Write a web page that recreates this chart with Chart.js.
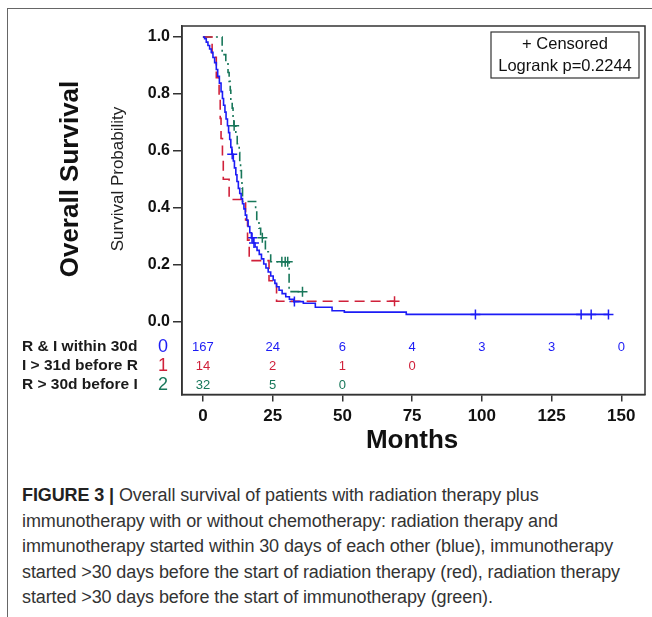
<!DOCTYPE html>
<html>
<head>
<meta charset="utf-8">
<script src="https://cdn.jsdelivr.net/npm/chart.js@4.4.1/dist/chart.umd.min.js"></script>
<style>
  html, body { margin: 0; padding: 0; background: #fff; }
  #page { position: relative; width: 652px; height: 617px; overflow: hidden; }
  #frame { position: absolute; left: 7px; top: 8px; width: 700px; height: 700px;
           border-left: 1.5px solid #666; border-top: 1.5px solid #666; }
  #km { position: absolute; left: 0; top: 0; }
  #caption { position: absolute; left: 22px; top: 483px; color: #333;
             font: 18px 'Liberation Sans', Arial, sans-serif;
             line-height: 25.6px; white-space: nowrap; letter-spacing: -0.1px; }
  #caption b { color: #222; }
</style>
</head>
<body>
<div id="page">
  <div id="frame"></div>
  <canvas id="km" width="652" height="470"></canvas>
  <div id="caption">
    <b>FIGURE 3 |</b> Overall survival of patients with radiation therapy plus<br>
    immunotherapy with or without chemotherapy: radiation therapy and<br>
    immunotherapy started within 30 days of each other (blue), immunotherapy<br>
    started &gt;30 days before the start of radiation therapy (red), radiation therapy<br>
    started &gt;30 days before the start of immunotherapy (green).
  </div>
</div>
<script>
// Kaplan-Meier estimates (months, survival after each step)
const blueTimes = [0, 0.6, 1.2, 1.8, 2.4, 3.0, 3.6, 4.2, 4.8, 5.3, 5.9, 6.5, 7.0, 7.4, 7.9, 8.3, 8.8, 9.2, 9.6, 10.0,
  10.4, 10.9, 11.3, 11.8, 12.2, 12.7, 13.2, 13.7, 14.2, 14.7, 15.2, 15.7, 16.2, 16.8, 17.4, 18.0, 18.7, 19.4, 20.2,
  21.0, 21.8, 22.6, 23.4, 24.3, 25.2, 25.8, 26.4, 27.3, 28.4, 29.7, 31.0, 32.6, 36.0, 40.3, 46.3, 50.7, 72.9, 145.4];
const blueSurv = [1, 0.994, 0.982, 0.970, 0.958, 0.946, 0.928, 0.910, 0.886, 0.862, 0.838, 0.808, 0.784, 0.760, 0.736,
  0.712, 0.688, 0.664, 0.640, 0.612, 0.588, 0.564, 0.540, 0.516, 0.492, 0.468, 0.450, 0.432, 0.414, 0.396, 0.374,
  0.356, 0.334, 0.312, 0.294, 0.276, 0.262, 0.250, 0.236, 0.220, 0.202, 0.188, 0.174, 0.160, 0.146, 0.134, 0.122,
  0.110, 0.098, 0.087, 0.078, 0.070, 0.064, 0.050, 0.038, 0.033, 0.025, 0.025];
const blueCensor = [10.5, 17.6, 18.3, 32.8, 97.7, 135.6, 139.2, 145.4];

const redTimes = [0, 3.3, 4.8, 5.8, 6.2, 6.5, 7.0, 7.3, 9.4, 15.3, 16.0, 16.6, 23.7, 26.4, 68.7];
const redSurv = [1, 0.929, 0.857, 0.786, 0.714, 0.643, 0.571, 0.5, 0.429, 0.357, 0.286, 0.214, 0.143, 0.071, 0.071];
const redCensor = [68.7];

const greenTimes = [0, 6.9, 8.2, 9.0, 9.4, 9.8, 10.0, 10.5, 10.8, 11.1, 11.8, 12.3, 13.0, 13.2, 13.5, 13.8, 14.0,
  14.2, 18.9, 19.3, 20.1, 20.7, 22.4, 24.3, 30.9, 35.7];
const greenSurv = [1, 0.938, 0.906, 0.875, 0.844, 0.813, 0.781, 0.75, 0.719, 0.688, 0.656, 0.625, 0.594, 0.563,
  0.531, 0.5, 0.469, 0.422, 0.391, 0.359, 0.328, 0.294, 0.245, 0.21, 0.105, 0.105];
const greenCensor = [11.2, 21.3, 28.3, 29.5, 30.4, 35.7];

// numbers at risk
const riskTimes = [0, 25, 50, 75, 100, 125, 150];
const riskBlue = [167, 24, 6, 4, 3, 3, 0];
const riskRed = [14, 2, 1, 0];
const riskGreen = [32, 5, 0];
const groupNames = ['R & I within 30d', 'I > 31d before R', 'R > 30d before I'];
const yTicks = [0, 0.2, 0.4, 0.6, 0.8, 1.0];

const BLUE = '#1c1cf5', RED = '#d0213a', GREEN = '#18775a';
const FONT = "'Liberation Sans', Arial, sans-serif";

function survAt(times, surv, t) {
  let s = surv[0];
  for (let i = 0; i < times.length; i++) if (times[i] <= t) s = surv[i];
  return s;
}

function curve(times, surv, color, dash) {
  return {
    type: 'line',
    data: times.map((t, i) => ({ x: t, y: surv[i] })),
    borderColor: color, borderWidth: 1.6, borderDash: dash,
    stepped: true, pointRadius: 0, fill: false, tension: 0,
  };
}

function censors(list, times, surv, color) {
  return {
    type: 'scatter',
    data: list.map(t => ({ x: t, y: survAt(times, surv, t) })),
    pointStyle: 'cross', pointRadius: 5, borderColor: color, borderWidth: 1.5,
    showLine: false,
  };
}

const decorations = {
  id: 'decorations',
  afterDraw(chart) {
    const { ctx, chartArea: a } = chart;
    const x = chart.scales.x;
    ctx.save();
    // plot frame
    ctx.strokeStyle = '#333';
    ctx.lineWidth = 1.5;
    ctx.strokeRect(a.left, a.top, a.right - a.left, a.bottom - a.top);

    // axis titles
    ctx.fillStyle = '#111';
    ctx.textAlign = 'center';
    ctx.textBaseline = 'middle';
    ctx.save();
    ctx.translate(71, 179);
    ctx.rotate(-Math.PI / 2);
    ctx.font = 'bold 26px ' + FONT;
    ctx.fillText('Overall Survival', 0, 0);
    ctx.restore();
    ctx.save();
    ctx.translate(118, 179);
    ctx.rotate(-Math.PI / 2);
    ctx.font = '17px ' + FONT;
    ctx.fillStyle = '#222';
    ctx.fillText('Survival Probability', 0, 0);
    ctx.restore();
    ctx.font = 'bold 26px ' + FONT;
    ctx.fillText('Months', x.getPixelForValue(75), 441);

    // legend box
    ctx.lineWidth = 1.2;
    ctx.strokeRect(491, 32, 148, 46);
    ctx.font = '16.5px ' + FONT;
    ctx.fillStyle = '#111';
    ctx.fillText('+ Censored', 565, 44);
    ctx.fillText('Logrank p=0.2244', 565, 66);

    // risk table
    const rows = [riskBlue, riskRed, riskGreen];
    const colors = [BLUE, RED, GREEN];
    const ys = [347, 366, 385];
    rows.forEach((vals, r) => {
      ctx.textAlign = 'left';
      ctx.fillStyle = '#1a1a1a';
      ctx.font = 'bold 15.5px ' + FONT;
      ctx.fillText(groupNames[r], 22, ys[r]);
      ctx.textAlign = 'center';
      ctx.fillStyle = colors[r];
      ctx.font = '18px ' + FONT;
      ctx.fillText(String(r), 163, ys[r]);
      ctx.font = '13px ' + FONT;
      vals.forEach((v, i) => ctx.fillText(String(v), x.getPixelForValue(riskTimes[i]), ys[r]));
    });
    ctx.restore();
  }
};

new Chart(document.getElementById('km'), {
  data: {
    datasets: [
      curve(blueTimes, blueSurv, BLUE, []),
      curve(redTimes, redSurv, RED, [10, 6]),
      curve(greenTimes, greenSurv, GREEN, [9, 4, 2, 4]),
      censors(blueCensor, blueTimes, blueSurv, BLUE),
      censors(redCensor, redTimes, redSurv, RED),
      censors(greenCensor, greenTimes, greenSurv, GREEN),
    ],
  },
  options: {
    responsive: false,
    animation: false,
    layout: { padding: { top: 26, right: 7, left: 0, bottom: 0 } },
    plugins: { legend: { display: false }, tooltip: { enabled: false } },
    scales: {
      x: {
        type: 'linear', min: -7.5, max: 158.5,
        afterBuildTicks: s => { s.ticks = riskTimes.map(v => ({ value: v })); },
        afterFit: s => { s.height = 75.5; },
        grid: { drawOnChartArea: false, drawTicks: true, tickLength: 7, color: '#333', lineWidth: 1.5 },
        border: { color: '#333', width: 1.5 },
        ticks: { color: '#111', font: { family: FONT, size: 17, weight: 'bold' }, padding: 5, maxRotation: 0 },
      },
      y: {
        type: 'linear', min: -0.2566, max: 1.0387,
        afterBuildTicks: s => { s.ticks = yTicks.map(v => ({ value: v })); },
        afterFit: s => { s.width = 182; },
        grid: { drawOnChartArea: false, drawTicks: true, tickLength: 9, color: '#333', lineWidth: 1.5 },
        border: { color: '#333', width: 1.5 },
        ticks: { color: '#111', font: { family: FONT, size: 16, weight: 'bold' }, padding: 3,
                 callback: v => v.toFixed(1) },
      },
    },
  },
  plugins: [decorations],
});
</script>
</body>
</html>
